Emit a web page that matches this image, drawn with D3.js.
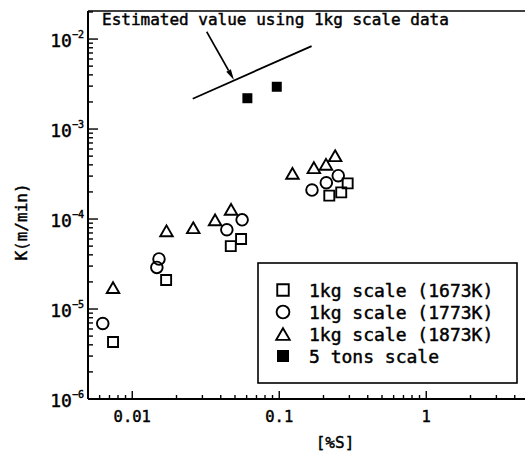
<!DOCTYPE html>
<html>
<head>
<meta charset="utf-8">
<script src="https://cdn.jsdelivr.net/npm/d3@7"></script>
<style>
  html, body { margin: 0; padding: 0; background: #fff; }
  svg { display: block; }
  text { font-family: "DejaVu Sans Mono", "Liberation Mono", monospace; fill: #000; stroke: #000; stroke-width: 0.45px; }
</style>
</head>
<body>
<svg id="chart" width="525" height="453"></svg>
<script>
// Mass-transfer coefficient K versus sulfur content [%S]
const s1673X = [0.0074, 0.0170, 0.0468, 0.0550, 0.219, 0.264, 0.292];
const s1673K = [4.3e-6, 2.1e-5, 5.0e-5, 6.0e-5, 1.82e-4, 1.98e-4, 2.49e-4];

const c1773X = [0.0063, 0.0152, 0.0147, 0.0440, 0.0559, 0.167, 0.209, 0.252];
const c1773K = [6.9e-6, 3.6e-5, 2.9e-5, 7.6e-5, 9.8e-5, 2.1e-4, 2.53e-4, 3.03e-4];

const t1873X = [0.0074, 0.0171, 0.0260, 0.0366, 0.0470, 0.123, 0.172, 0.208, 0.240];
const t1873K = [1.73e-5, 7.4e-5, 8.0e-5, 9.8e-5, 1.28e-4, 3.22e-4, 3.72e-4, 4.06e-4, 5.05e-4];

const tons5X = [0.0607, 0.0962];
const tons5K = [2.2e-3, 2.95e-3];

// Estimated line from the 1kg-scale data
const estX = [0.0258, 0.166];
const estK = [2.17e-3, 8.36e-3];
// Pointer from the note to the estimated line
const arrowX = [0.0321, 0.0492];
const arrowK = [1.205e-2, 3.5e-3];

const xTickValues = [0.01, 0.1, 1];
const xTickLabels = ["0.01", "0.1", "1"];
const yTickExponents = [-2, -3, -4, -5, -6];

const legendLabels = ["1kg scale (1673K)", "1kg scale (1773K)", "1kg scale (1873K)", "5 tons scale"];
const noteText = "Estimated value using 1kg scale data";

const svg = d3.select("#chart");

const x = d3.scaleLog().domain([0.005, 5]).range([88, 529]);
const y = d3.scaleLog().domain([1e-6, 2.05e-2]).range([399, 11]);

// Frame: top edge
svg.append("line")
  .attr("x1", x.range()[0]).attr("x2", x.range()[1])
  .attr("y1", y.range()[1]).attr("y2", y.range()[1])
  .attr("stroke", "#000").attr("stroke-width", 1.6);

// Log ticks (1..9 in each decade), drawn inward
function logTicks(domain) {
  const out = [];
  const lo = Math.floor(Math.log10(domain[0])), hi = Math.ceil(Math.log10(domain[1]));
  for (let e = lo; e <= hi; e++) {
    for (let m = 1; m <= 9; m++) {
      const v = m * Math.pow(10, e);
      if (v > domain[0] * 1.001 && v < domain[1] * 0.999) out.push({v, major: m === 1});
    }
  }
  return out;
}

const xAxisY = y.range()[0];
const xAxis = svg.append("g");
xAxis.append("line")
  .attr("x1", x.range()[0]).attr("x2", x.range()[1])
  .attr("y1", xAxisY).attr("y2", xAxisY)
  .attr("stroke", "#000").attr("stroke-width", 2);
xAxis.selectAll("line.tick").data(logTicks(x.domain())).join("line")
  .attr("class", "tick")
  .attr("x1", d => x(d.v)).attr("x2", d => x(d.v))
  .attr("y1", xAxisY).attr("y2", d => xAxisY - (d.major ? 8 : 4))
  .attr("stroke", "#000").attr("stroke-width", 1.4);
xAxis.selectAll("text").data(xTickValues).join("text")
  .attr("x", d => x(d)).attr("y", 422)
  .attr("text-anchor", "middle")
  .attr("font-size", 15.5)
  .text((d, i) => xTickLabels[i]);

const yAxisX = x.range()[0];
const yAxis = svg.append("g");
yAxis.append("line")
  .attr("x1", yAxisX).attr("x2", yAxisX)
  .attr("y1", y.range()[0]).attr("y2", y.range()[1])
  .attr("stroke", "#000").attr("stroke-width", 2);
yAxis.selectAll("line.tick").data(logTicks(y.domain())).join("line")
  .attr("class", "tick")
  .attr("y1", d => y(d.v)).attr("y2", d => y(d.v))
  .attr("x1", yAxisX).attr("x2", d => yAxisX + (d.major ? 10 : 5))
  .attr("stroke", "#000").attr("stroke-width", 1.4);
const yLab = yAxis.selectAll("text").data(yTickExponents).join("text")
  .attr("x", 84).attr("y", d => y(Math.pow(10, d)) + 8)
  .attr("text-anchor", "end")
  .attr("font-size", 18);
yLab.append("tspan").text("10");
yLab.append("tspan").attr("font-size", 10).attr("dy", -9).text(d => "\u2212" + (-d));

// Axis titles
svg.append("text")
  .attr("transform", "translate(27,222) rotate(-90)")
  .attr("text-anchor", "middle")
  .attr("font-size", 16)
  .text("K(m/min)");
svg.append("text")
  .attr("x", 335).attr("y", 448)
  .attr("text-anchor", "middle")
  .attr("font-size", 16)
  .text("[%S]");

// Marker shapes (box-centred)
function squarePath(s) { const h = s / 2; return `M${-h},${-h}H${h}V${h}H${-h}Z`; }
function trianglePath(w) {
  const h = w * Math.sqrt(3) / 2;
  return `M0,${-h / 2}L${w / 2},${h / 2}L${-w / 2},${h / 2}Z`;
}

const marks = svg.append("g").attr("fill", "none").attr("stroke", "#000").attr("stroke-width", 1.9);

marks.selectAll("path.sq").data(d3.zip(s1673X, s1673K)).join("path")
  .attr("class", "sq")
  .attr("transform", d => `translate(${x(d[0])},${y(d[1])})`)
  .attr("d", squarePath(10));

marks.selectAll("circle.ci").data(d3.zip(c1773X, c1773K)).join("circle")
  .attr("class", "ci")
  .attr("cx", d => x(d[0])).attr("cy", d => y(d[1])).attr("r", 5.8);

marks.selectAll("path.tr").data(d3.zip(t1873X, t1873K)).join("path")
  .attr("class", "tr")
  .attr("transform", d => `translate(${x(d[0])},${y(d[1])})`)
  .attr("d", trianglePath(12.5));

svg.selectAll("path.fs").data(d3.zip(tons5X, tons5K)).join("path")
  .attr("class", "fs")
  .attr("transform", d => `translate(${x(d[0])},${y(d[1])})`)
  .attr("d", squarePath(10))
  .attr("fill", "#000");

// Estimated line
svg.append("path")
  .datum(d3.zip(estX, estK))
  .attr("d", d3.line().x(d => x(d[0])).y(d => y(d[1])))
  .attr("fill", "none").attr("stroke", "#000").attr("stroke-width", 1.8);

// Arrow pointing at the estimated line
const a0 = [x(arrowX[0]), y(arrowK[0])], a1 = [x(arrowX[1]), y(arrowK[1])];
const ang = Math.atan2(a1[1] - a0[1], a1[0] - a0[0]);
const headLen = 11, headHalf = 2.6;
const base = [a1[0] - headLen * Math.cos(ang), a1[1] - headLen * Math.sin(ang)];
svg.append("line")
  .attr("x1", a0[0]).attr("y1", a0[1]).attr("x2", base[0]).attr("y2", base[1])
  .attr("stroke", "#000").attr("stroke-width", 1.6);
svg.append("path")
  .attr("d", `M${a1[0]},${a1[1]}L${base[0] + headHalf * Math.sin(ang)},${base[1] - headHalf * Math.cos(ang)}L${base[0] - headHalf * Math.sin(ang)},${base[1] + headHalf * Math.cos(ang)}Z`)
  .attr("fill", "#000");

svg.append("text")
  .attr("x", 102).attr("y", 25)
  .attr("font-size", 16)
  .text(noteText);

// Legend
const lg = svg.append("g");
lg.append("rect")
  .attr("x", 258).attr("y", 263).attr("width", 259).attr("height", 120)
  .attr("fill", "#fff").attr("stroke", "#000").attr("stroke-width", 1.6);
const rowY = d3.scalePoint().domain(d3.range(legendLabels.length)).range([290, 356]);
const legendShapes = [
  g => g.append("path").attr("d", squarePath(11.5)).attr("fill", "none").attr("stroke", "#000").attr("stroke-width", 1.9),
  g => g.append("circle").attr("r", 6.4).attr("fill", "none").attr("stroke", "#000").attr("stroke-width", 1.9),
  g => g.append("path").attr("d", trianglePath(13.5)).attr("fill", "none").attr("stroke", "#000").attr("stroke-width", 1.9),
  g => g.append("path").attr("d", squarePath(12)).attr("fill", "#000")
];
legendLabels.forEach((label, i) => {
  const row = lg.append("g").attr("transform", `translate(0,${rowY(i)})`);
  legendShapes[i](row.append("g").attr("transform", "translate(283,0)"));
  row.append("text").attr("x", 309).attr("y", 6.5).attr("font-size", 18).text(label);
});
</script>
</body>
</html>
